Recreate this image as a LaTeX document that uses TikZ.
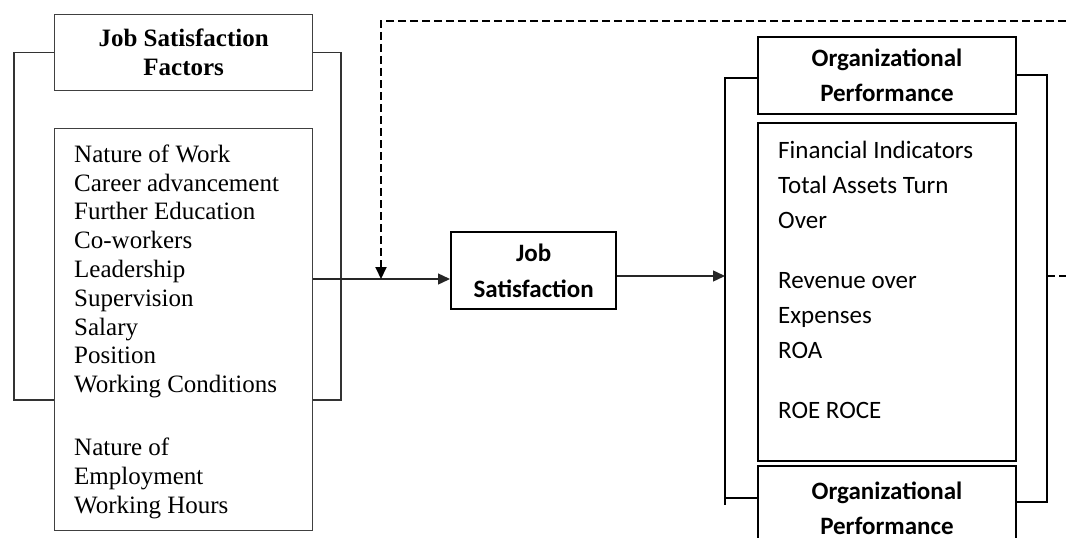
\documentclass[tikz,border=0pt]{standalone}
\usepackage{fontspec}
\setmainfont{Liberation Serif}
\newfontfamily\calib{Carlito}
\usetikzlibrary{arrows.meta}
\begin{document}
\begin{tikzpicture}[x=1pt,y=-1pt,
  lbox/.style={draw=black!75, line width=1.3pt, fill=white, inner sep=0pt},
  rbox/.style={draw=black, line width=1.9pt, fill=white, inner sep=0pt},
  serif/.style={font=\fontsize{25}{28.8}\selectfont, align=left, inner sep=0pt},
  sanstxt/.style={font=\calib\fontsize{25}{35}\selectfont, align=left, inner sep=0pt},
  lline/.style={draw=black!80, line width=1.3pt},
  rline/.style={draw=black, line width=1.9pt},
  conn/.style={draw=black!85, line width=1.4pt},
  dashline/.style={draw=black, line width=1.9pt, dash pattern=on 8pt off 4pt},
  tip/.style={-{Triangle[length=12pt,width=11pt]}}
]
\path[use as bounding box, clip] (0,0) rectangle (1066,538);

% left boxes
\node[lbox, minimum width=258pt, minimum height=76pt, anchor=north west,
      font=\bfseries\fontsize{25}{29}\selectfont, align=center] (jsf) at (54,14) {Job Satisfaction\\Factors};
\node[lbox, minimum width=258pt, minimum height=402pt, anchor=north west] (list) at (54,128) {};
\node[serif, anchor=base west] (listt) at (74,513) {Nature of Work\\Career advancement\\Further Education\\Co-workers\\Leadership\\Supervision\\Salary\\Position\\Working Conditions\\[34pt]Nature of\\Employment\\Working Hours};

% job satisfaction
\node[rbox, line width=2.3pt, minimum width=165pt, minimum height=77pt, anchor=north west,
      font=\calib\bfseries\fontsize{25}{36}\selectfont, align=center] (js) at (450,231) {Job\\Satisfaction};

% right boxes
\node[rbox, minimum width=258pt, minimum height=77pt, anchor=north west,
      font=\calib\bfseries\fontsize{25}{35}\selectfont, align=center] (orgtop) at (757,36) {Organizational\\Performance};
\node[rbox, minimum width=258pt, minimum height=338pt, anchor=north west] (mid) at (757,122) {};
\node[sanstxt, anchor=base west] (midt) at (778,418) {Financial Indicators\\Total Assets Turn\\Over\\[25pt]Revenue over\\Expenses\\ROA\\[25pt]ROE ROCE};
\node[rbox, minimum width=258pt, minimum height=85pt, anchor=north west,
      font=\calib\bfseries\fontsize{25}{35}\selectfont, align=center] (orgbot) at (757,465) {Organizational\\Performance};

% coordinates
\coordinate (y1) at (0,279);
\coordinate (y2) at (0,276);
\coordinate (d0) at (1066,21);
\coordinate (d1) at (381,21);
\coordinate (e2) at (1066,276);
\coordinate (lb) at (14,400);
\coordinate (rb) at (341,400);
\coordinate (bl) at (725,78);
\coordinate (blb) at (725,498);
\coordinate (blx) at (725,505);
\coordinate (br) at (1047,75);
\coordinate (brb) at (1047,502);

% left brackets
\draw[lline] (jsf.west) -| (lb) -- (list.west |- lb);
\draw[lline] (jsf.east) -| (rb) -- (list.east |- rb);

% right brackets
\draw[rline] (orgtop.west |- bl) -- (bl) -- (blx);
\draw[rline] (blb) -- (orgbot.west |- blb);
\draw[rline] (orgtop.east |- br) -- (br) -- (brb) -- (orgbot.east |- brb);

% connectors
\draw[conn, tip] (list.east |- y1) -- (js.west |- y1);
\draw[dashline, tip] (d0) -- (d1) -- (d1 |- y1);
\draw[conn, tip] (js.east |- y2) -- (bl |- y2);
\draw[dashline] (br |- y2) -- (e2);
\end{tikzpicture}
\end{document}
